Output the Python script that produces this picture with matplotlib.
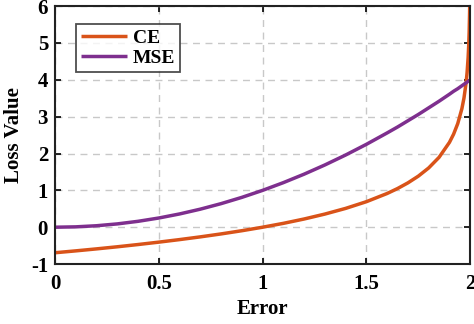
import matplotlib
matplotlib.use("Agg")
import matplotlib.pyplot as plt

error = [0.0, 0.1, 0.2, 0.3, 0.4, 0.5, 0.6, 0.7, 0.8, 0.9, 1.0, 1.1, 1.2, 1.3, 1.4, 1.5,
         1.6, 1.65, 1.7, 1.75, 1.8, 1.85, 1.9, 1.92, 1.94, 1.96, 1.97, 1.98, 1.985, 1.99,
         1.993, 1.995, 1.997, 1.998]
ce = [-0.693, -0.642, -0.588, -0.531, -0.470, -0.405, -0.336, -0.262, -0.182, -0.095, 0.0,
      0.105, 0.223, 0.357, 0.511, 0.693, 0.916, 1.050, 1.204, 1.386, 1.609, 1.897, 2.303,
      2.526, 2.813, 3.219, 3.507, 3.912, 4.200, 4.605, 4.962, 5.298, 5.809, 6.215]
mse = [0.0, 0.01, 0.04, 0.09, 0.16, 0.25, 0.36, 0.49, 0.64, 0.81, 1.0, 1.21, 1.44, 1.69,
       1.96, 2.25, 2.56, 2.72, 2.89, 3.06, 3.24, 3.42, 3.61, 3.69, 3.76, 3.84, 3.88, 3.92,
       3.94, 3.96, 3.97, 3.98, 3.99, 3.99]
xticks = [0, 0.5, 1, 1.5, 2]
xticklabels = ["0", "0.5", "1", "1.5", "2"]
yticks = [-1, 0, 1, 2, 3, 4, 5, 6]
yticklabels = ["-1", "0", "1", "2", "3", "4", "5", "6"]

plt.rcParams['font.family'] = ['Liberation Serif', 'DejaVu Serif']
plt.rcParams['font.weight'] = 'bold'

fig = plt.figure(figsize=(4.74, 3.24), dpi=100)
ax = fig.add_axes([0.116, 0.185, 0.876, 0.796])

ax.plot(error, ce, color='#D95319', lw=2.5, label='CE', solid_capstyle='butt')
ax.plot(error, mse, color='#7E2F8E', lw=2.5, label='MSE', solid_capstyle='butt')

ax.set_xlim(0, 2)
ax.set_ylim(-1, 6)
ax.set_xticks(xticks)
ax.set_xticklabels(xticklabels)
ax.set_yticks(yticks)
ax.set_yticklabels(yticklabels)
ax.grid(True, color='#c8c8c8', ls=(0, (5, 4)), lw=1.0)
ax.set_axisbelow(True)
ax.tick_params(direction='in', top=True, right=True, labelsize=15, width=1.2, length=4)
ax.tick_params(axis='x', pad=7)
ax.tick_params(axis='y', pad=5)
for lab in ax.get_xticklabels() + ax.get_yticklabels():
    lab.set_fontweight('bold')
for s in ax.spines.values():
    s.set_linewidth(1.5)
    s.set_color('#222222')

ax.set_xlabel('Error', fontsize=15, fontweight='bold')
ax.set_ylabel('Loss Value', fontsize=15, fontweight='bold')
ax.xaxis.label.set_va('center')
ax.yaxis.label.set_va('center')
ax.xaxis.set_label_coords(0.5, -0.174)
ax.yaxis.set_label_coords(-0.098, 0.5)

leg = ax.legend(loc='upper left', bbox_to_anchor=(0.05, 0.93), fontsize=14,
                frameon=True, fancybox=False, edgecolor='#222222', handlelength=2.4,
                borderpad=0.25, labelspacing=0.15, handletextpad=0.3, borderaxespad=0)
leg.get_frame().set_linewidth(1.3)
for t in leg.get_texts():
    t.set_fontweight('bold')

fig.savefig('out.png', dpi=100)
